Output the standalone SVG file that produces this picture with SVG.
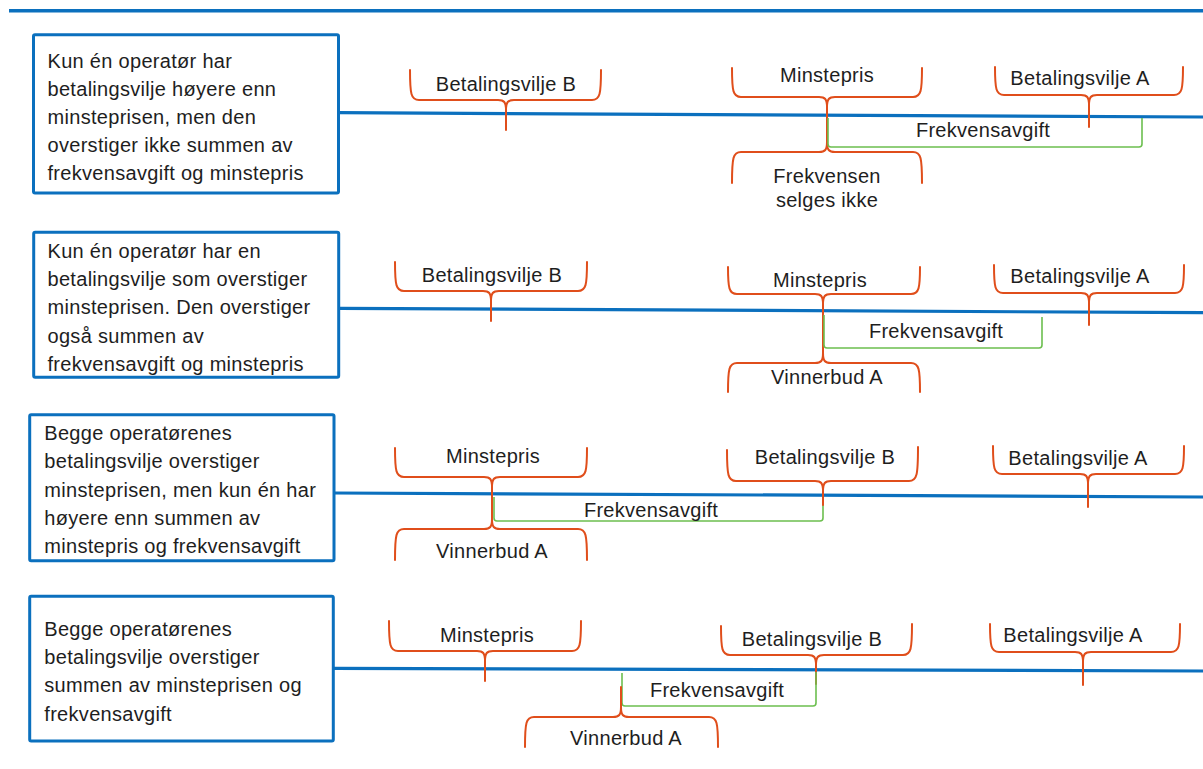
<svg xmlns="http://www.w3.org/2000/svg" width="1203" height="769" viewBox="0 0 1203 769">
  <style>
    text { font-family: "Liberation Sans", Arial, sans-serif; font-size: 20px; fill: #1e1e1e; letter-spacing: 0.3px; }
    .lbl { text-anchor: middle; }
    .box { fill: #ffffff; stroke: #0b70be; stroke-width: 3; }
    .axis { stroke: #0b70be; stroke-width: 3.2; fill: none; }
    .brace { fill: none; stroke: #e04e1b; stroke-width: 2; stroke-linecap: round; stroke-linejoin: round; }
    .fee { fill: none; stroke: #6cbf4f; stroke-width: 1.6; stroke-linejoin: round; }
  </style>

  <!-- header rule -->
  <line x1="9" y1="10.8" x2="1203" y2="10.8" stroke="#0b70be" stroke-width="3.6"/>

  <!-- timeline axes -->
  <g id="connectors">
    <line class="axis" x1="339" y1="112.7" x2="1203" y2="117"/>
    <line class="axis" x1="339" y1="308.3" x2="1203" y2="312.7"/>
    <line class="axis" x1="334" y1="493" x2="1203" y2="497"/>
    <line class="axis" x1="333" y1="668.3" x2="1203" y2="671"/>
  </g>

  <!-- ===== Case 1 ===== -->
  <g id="case1">
    <rect class="box" x="33.5" y="34.7" width="305" height="158.3" rx="1.5"/>
    <text x="47.5" y="67.5">Kun én operatør har</text>
    <text x="47.5" y="95.7">betalingsvilje høyere enn</text>
    <text x="47.5" y="123.8">minsteprisen, men den</text>
    <text x="47.5" y="152">overstiger ikke summen av</text>
    <text x="47.5" y="180.2">frekvensavgift og minstepris</text>
  </g>
  <g id="case1-betalingsvilje-b">
    <path class="brace" d="M410,70 C410,94 411,100 419,100 L498,100 C504,100 506,102 506,110 L506,130 M506,110 C506,102 508,100 514,100 L592,100 C600,100 601,94 601,70"/>
    <text class="lbl" x="506" y="91">Betalingsvilje B</text>
  </g>
  <g id="case1-minstepris">
    <path class="brace" d="M732,68 C732,91 733,97 741,97 L819,97 C825,97 827,99 827,107 L827,127 M827,107 C827,99 829,97 835,97 L913,97 C921,97 922,91 922,68"/>
    <text class="lbl" x="827" y="82">Minstepris</text>
  </g>
  <g id="case1-ikke-solgt">
    <path class="brace" d="M732,183 C732,158 733,152 741,152 L819,152 C825,152 827,150 827,142 L827,122 M827,142 C827,150 829,152 835,152 L913,152 C921,152 922,158 922,183"/>
    <text class="lbl" x="827" y="183">Frekvensen</text>
    <text class="lbl" x="827" y="207">selges ikke</text>
  </g>
  <g id="case1-frekvensavgift">
    <path class="fee" d="M828,118 L828,144 Q828,147 831,147 L1139,147 Q1142,147 1142,144 L1142,118"/>
    <text class="lbl" x="983" y="137">Frekvensavgift</text>
  </g>
  <g id="case1-betalingsvilje-a">
    <path class="brace" d="M995,67 C995,89 996,95 1004,95 L1081,95 C1087,95 1089,97 1089,105 L1089,127 M1089,105 C1089,97 1091,95 1097,95 L1174,95 C1182,95 1183,89 1183,67"/>
    <text class="lbl" x="1080" y="85">Betalingsvilje A</text>
  </g>

  <!-- ===== Case 2 ===== -->
  <g id="case2">
    <rect class="box" x="33.7" y="232.2" width="305" height="145.1" rx="1.5"/>
    <text x="47.5" y="257.7">Kun én operatør har en</text>
    <text x="47.5" y="286">betalingsvilje som overstiger</text>
    <text x="47.5" y="314.3">minsteprisen. Den overstiger</text>
    <text x="47.5" y="342.6">også summen av</text>
    <text x="47.5" y="370.9">frekvensavgift og minstepris</text>
  </g>
  <g id="case2-betalingsvilje-b">
    <path class="brace" d="M395,262 C395,285 396,291 404,291 L483,291 C489,291 491,293 491,301 L491,321 M491,301 C491,293 493,291 499,291 L578,291 C586,291 587,285 587,262"/>
    <text class="lbl" x="492" y="282">Betalingsvilje B</text>
  </g>
  <g id="case2-minstepris">
    <path class="brace" d="M728,267 C728,288 729,294 737,294 L815,294 C821,294 823,296 823,304 L823,330 M823,304 C823,296 825,294 831,294 L911,294 C919,294 920,288 920,267"/>
    <text class="lbl" x="820" y="287">Minstepris</text>
  </g>
  <g id="case2-vinnerbud-a">
    <path class="brace" d="M728,392 C728,369 729,363 737,363 L815,363 C821,363 823,361 823,353 L823,326 M823,353 C823,361 825,363 831,363 L911,363 C919,363 920,369 920,392"/>
    <text class="lbl" x="827" y="384">Vinnerbud A</text>
  </g>
  <g id="case2-frekvensavgift">
    <path class="fee" d="M824,315 L824,345 Q824,348 827,348 L1039,348 Q1042,348 1042,345 L1042,317"/>
    <text class="lbl" x="936" y="338">Frekvensavgift</text>
  </g>
  <g id="case2-betalingsvilje-a">
    <path class="brace" d="M994,265 C994,287 995,293 1003,293 L1081,293 C1087,293 1089,295 1089,303 L1089,325 M1089,303 C1089,295 1091,293 1097,293 L1175,293 C1183,293 1184,287 1184,265"/>
    <text class="lbl" x="1080" y="283">Betalingsvilje A</text>
  </g>

  <!-- ===== Case 3 ===== -->
  <g id="case3">
    <rect class="box" x="29.7" y="414.7" width="304.3" height="146" rx="1.5"/>
    <text x="44.3" y="440">Begge operatørenes</text>
    <text x="44.3" y="468.3">betalingsvilje overstiger</text>
    <text x="44.3" y="496.6">minsteprisen, men kun én har</text>
    <text x="44.3" y="524.9">høyere enn summen av</text>
    <text x="44.3" y="553.2">minstepris og frekvensavgift</text>
  </g>
  <g id="case3-minstepris">
    <path class="brace" d="M395,448 C395,471 396,477 404,477 L484,477 C490,477 492,479 492,487 L492,506 M492,487 C492,479 494,477 500,477 L578,477 C586,477 587,471 587,448"/>
    <text class="lbl" x="493" y="463">Minstepris</text>
  </g>
  <g id="case3-vinnerbud-a">
    <path class="brace" d="M395,560 C395,535 396,529 404,529 L484,529 C490,529 492,527 492,519 L492,500 M492,519 C492,527 494,529 500,529 L578,529 C586,529 587,535 587,560"/>
    <text class="lbl" x="492" y="558">Vinnerbud A</text>
  </g>
  <g id="case3-frekvensavgift">
    <path class="fee" d="M494,497 L494,518 Q494,521 497,521 L820,521 Q823,521 823,518 L823,495"/>
    <text class="lbl" x="651" y="517">Frekvensavgift</text>
  </g>
  <g id="case3-betalingsvilje-b">
    <path class="brace" d="M727,450 C727,475 728,481 736,481 L815,481 C821,481 823,483 823,491 L823,505 M823,491 C823,483 825,481 831,481 L909,481 C917,481 918,475 918,447"/>
    <text class="lbl" x="825" y="464">Betalingsvilje B</text>
  </g>
  <g id="case3-betalingsvilje-a">
    <path class="brace" d="M993,446 C993,468 994,474 1002,474 L1080,474 C1086,474 1088,476 1088,484 L1088,507 M1088,484 C1088,476 1090,474 1096,474 L1175,474 C1183,474 1184,468 1184,446"/>
    <text class="lbl" x="1078" y="465">Betalingsvilje A</text>
  </g>

  <!-- ===== Case 4 ===== -->
  <g id="case4">
    <rect class="box" x="29.7" y="596.3" width="303.6" height="144.7" rx="1.5"/>
    <text x="44.3" y="635.7">Begge operatørenes</text>
    <text x="44.3" y="664">betalingsvilje overstiger</text>
    <text x="44.3" y="692.3">summen av minsteprisen og</text>
    <text x="44.3" y="720.6">frekvensavgift</text>
  </g>
  <g id="case4-minstepris">
    <path class="brace" d="M389,621 C389,645 390,651 398,651 L477,651 C483,651 485,653 485,661 L485,681 M485,661 C485,653 487,651 493,651 L572,651 C580,651 581,645 581,621"/>
    <text class="lbl" x="487" y="642">Minstepris</text>
  </g>
  <g id="case4-betalingsvilje-b">
    <path class="brace" d="M721,626 C721,649 722,655 730,655 L808,655 C814,655 816,657 816,665 L816,684 M816,665 C816,657 818,655 824,655 L903,655 C911,655 912,649 912,624"/>
    <text class="lbl" x="812" y="646">Betalingsvilje B</text>
  </g>
  <g id="case4-frekvensavgift">
    <path class="fee" d="M622,673 L622,703 Q622,706 625,706 L813,706 Q816,706 816,703 L816,672"/>
    <text class="lbl" x="717" y="697">Frekvensavgift</text>
  </g>
  <g id="case4-vinnerbud-a">
    <path class="brace" d="M525,747 C525,723 526,717 534,717 L613,717 C619,717 621,715 621,707 L621,687 M621,707 C621,715 623,717 629,717 L709,717 C717,717 718,723 718,747"/>
    <text class="lbl" x="626" y="745">Vinnerbud A</text>
  </g>
  <g id="case4-betalingsvilje-a">
    <path class="brace" d="M990,624 C990,646 991,652 999,652 L1075,652 C1081,652 1083,654 1083,662 L1083,685 M1083,662 C1083,654 1085,652 1091,652 L1171,652 C1179,652 1180,646 1180,624"/>
    <text class="lbl" x="1073" y="642">Betalingsvilje A</text>
  </g>
</svg>
